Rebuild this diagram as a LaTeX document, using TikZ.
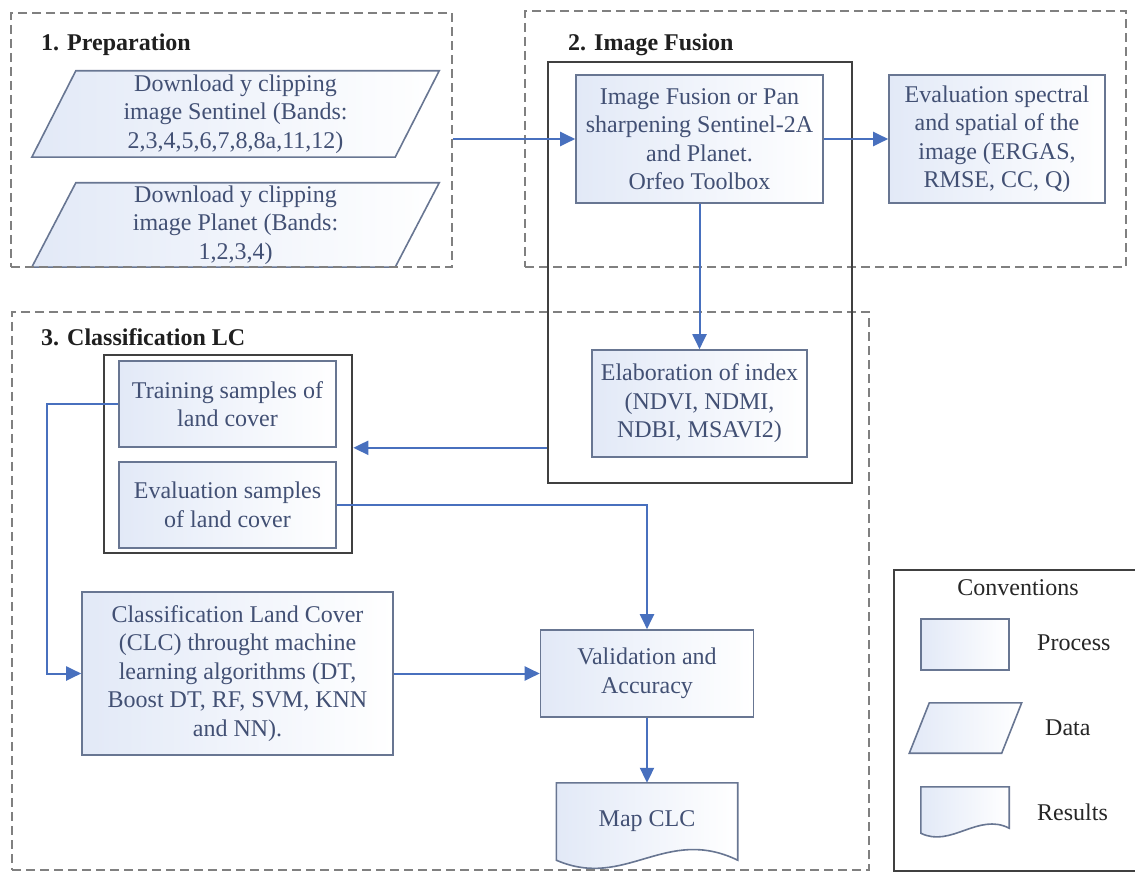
\documentclass[tikz,border=0pt]{standalone}
\usepackage{fontspec}
\setmainfont{Liberation Serif}
\usetikzlibrary{arrows.meta,backgrounds,calc}

\definecolor{boxline}{RGB}{104,118,146}
\definecolor{boxfill}{RGB}{226,233,247}
\definecolor{boxtext}{RGB}{66,80,116}
\definecolor{flow}{RGB}{72,112,190}
\definecolor{secline}{RGB}{128,128,128}
\definecolor{grpline}{RGB}{64,64,64}

\tikzset{
  base/.style={font=\fontsize{24}{28.5}\selectfont, text=boxtext, align=center, inner sep=0pt},
  framed/.style={draw=boxline, line width=1.6pt, left color=boxfill, right color=white},
  proc/.style={base, framed},
  plainbox/.style={base},
  conn/.style={draw=flow, line width=2pt, -{Triangle[length=15pt,width=14pt]}},
  sect/.style={draw=secline, line width=1.8pt, dash pattern=on 9pt off 5pt, inner sep=0pt},
  grp/.style={draw=grpline, line width=2.6pt, inner sep=0pt},
  sectitle/.style={font=\fontsize{24}{28}\selectfont\bfseries, text=black!88, anchor=west, inner sep=0pt},
  legtext/.style={font=\fontsize{24}{28}\selectfont, text=black!85, inner sep=0pt}
}

\begin{document}
\begin{tikzpicture}[x=1pt,y=-1pt]
\useasboundingbox (0,0) rectangle (1135,874);
\clip (0,0) rectangle (1135,874);

% section frames
\node[sect, minimum width=441, minimum height=254] (s1) at (231.5,140) {};
\node[sect, minimum width=601, minimum height=256] (s2) at (825.5,139) {};
\node[sect, minimum width=857, minimum height=558] (s3) at (440.5,591) {};

\node[sectitle] (t1) at (41,45) {1. Preparation};
\node[sectitle] (t2) at (568,45) {2. Image Fusion};
\node[sectitle] (t3) at (41,337) {3. Classification LC};

% solid grouping frames
\node[grp, minimum width=304, minimum height=421] (g2) at (700,272.5) {};
\node[grp, minimum width=248, minimum height=198] (samp) at (228,454) {};

% data inputs
\node[plainbox, minimum width=363, minimum height=86] (d1) at (235.5,114)
  {Download y clipping\\image Sentinel (Bands:\\2,3,4,5,6,7,8,8a,11,12)};
\node[plainbox, minimum width=363, minimum height=84] (d2) at (235.5,225)
  {Download y clipping\\image Planet (Bands:\\1,2,3,4)};

% processes
\node[proc, minimum width=247, minimum height=128] (fus) at (699.5,139)
  {Image Fusion or Pan\\sharpening Sentinel-2A\\and Planet.\\Orfeo Toolbox};
\node[proc, minimum width=216, minimum height=128] (eva) at (997,139)
  {Evaluation spectral\\and spatial of the\\image (ERGAS,\\RMSE, CC, Q)};
\node[proc, minimum width=215, minimum height=107] (elab) at (699.5,403.5)
  {Elaboration of index\\(NDVI, NDMI,\\NDBI, MSAVI2)};
\node[proc, minimum width=217, minimum height=86] (tr) at (227.5,404)
  {Training samples of\\land cover};
\node[proc, minimum width=217, minimum height=86] (evs) at (227.5,505)
  {Evaluation samples\\of land cover};
\node[proc, minimum width=311, minimum height=163] (clc) at (237.5,673.5)
  {Classification Land Cover\\(CLC) throught machine\\learning algorithms (DT,\\Boost DT, RF, SVM, KNN\\and NN).};
\node[proc, minimum width=213, minimum height=87] (val) at (647,673.5)
  {Validation and\\Accuracy};
\node[plainbox, minimum width=181, minimum height=77] (map) at (647,821.5)
  {Map CLC};

% legend
\node[grp, line width=2.2pt, minimum width=251, minimum height=301] (leg) at (1019.5,720.5) {};
\node[legtext] (lt) at (1018,588) {Conventions};
\node[proc, minimum width=88, minimum height=51] (lp) at (965,644.5) {};
\node[plainbox, minimum width=92, minimum height=50] (ld) at (965.5,728) {};
\node[plainbox, minimum width=88, minimum height=46] (lr) at (965,810) {};
\node[legtext, anchor=west] (lpt) at (1037,643) {Process};
\node[legtext, anchor=west] (ldt) at (1045,728) {Data};
\node[legtext, anchor=west] (lrt) at (1037,812) {Results};

% page ground, then parallelogram and document outlines behind their texts
\begin{pgfonlayer}{background}
  \fill[white] (0,0) rectangle (1135,874);
  \path[framed] ([xshift=22pt]d1.north west) -- ([xshift=22pt]d1.north east)
    -- ([xshift=-22pt]d1.south east) -- ([xshift=-22pt]d1.south west) -- cycle;
  \path[framed] ([xshift=22pt]d2.north west) -- ([xshift=22pt]d2.north east)
    -- ([xshift=-22pt]d2.south east) -- ([xshift=-22pt]d2.south west) -- cycle;
  \path[framed] ([xshift=10pt]ld.north west) -- ([xshift=10pt]ld.north east)
    -- ([xshift=-10pt]ld.south east) -- ([xshift=-10pt]ld.south west) -- cycle;
  \path[framed] (map.south west) -- (map.north west) -- (map.north east) -- (map.south east)
    .. controls ($(map.south east)+(-72,-35)$) and ($(map.south west)+(69,30)$) .. (map.south west) -- cycle;
  \path[framed] (lr.south west) -- (lr.north west) -- (lr.north east) -- ($(lr.south east)+(0,-5)$)
    .. controls ($(lr.south east)+(-31,-21)$) and ($(lr.south west)+(30,15)$) .. (lr.south west) -- cycle;
\end{pgfonlayer}

% flow connectors
\draw[conn] (s1.east |- fus.west) -- (fus.west);
\draw[conn] (fus.east) -- (eva.west);
\draw[conn] (fus.south) -- (elab.north);
\draw[conn] (g2.west |- tr.south) -- (samp.east |- tr.south);
\draw[conn] (tr.west) -- ++(-71,0) |- (clc.west);
\draw[conn] (evs.east) -| (val.north);
\draw[conn] (clc.east) -- (val.west);
\draw[conn] (val.south) -- (map.north);
\end{tikzpicture}
\end{document}
